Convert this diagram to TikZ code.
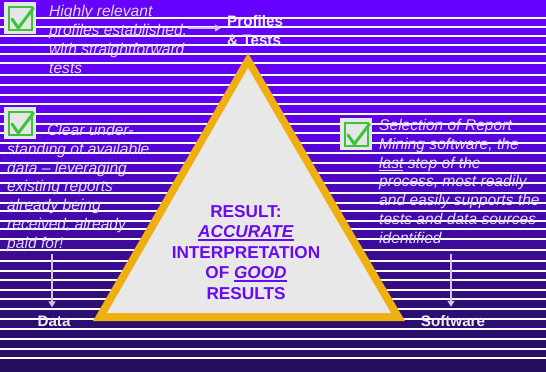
\documentclass[tikz,border=0pt]{standalone}
\usepackage{fontspec}
\setmainfont{Liberation Sans}
\usetikzlibrary{arrows.meta}
\definecolor{bgtop}{RGB}{102,0,255}
\definecolor{bgmidA}{RGB}{96,0,238}
\definecolor{bgmidB}{RGB}{72,8,180}
\definecolor{bgmidC}{RGB}{48,14,120}
\definecolor{bgbot}{RGB}{35,15,90}
\definecolor{orng}{RGB}{239,176,15}
\definecolor{trigray}{RGB}{232,232,232}
\definecolor{ctext}{RGB}{105,10,245}
\definecolor{itext}{RGB}{226,218,245}
\definecolor{lbltext}{RGB}{238,236,245}
\definecolor{arrcol}{RGB}{205,198,230}
\definecolor{chkgreen}{RGB}{60,195,60}
\definecolor{chkbg}{RGB}{230,230,230}
\newcommand\myThickUl[1]{\setbox0\hbox{#1}\rlap{\raisebox{-3.2pt}{\rule{\wd0}{1.8pt}}}\box0}
\pgfdeclareverticalshading{bgshade}{100bp}{color(0bp)=(bgbot); color(25bp)=(bgbot); color(34.7bp)=(bgmidC); color(48.1bp)=(bgmidB); color(60.2bp)=(bgmidA); color(75bp)=(bgtop); color(100bp)=(bgtop)}
\tikzset{
  bgline/.style={draw=white, line width=1.1pt},
  bodytext/.style={text=itext, font=\fontsize{15.6}{18.7}\selectfont\itshape, align=left, inner sep=0pt, anchor=base west},
  lbl/.style={text=lbltext, font=\fontsize{15.2}{19}\selectfont\bfseries, align=left, inner sep=0pt},
  centertext/.style={text=ctext, font=\fontsize{17.2}{20.5}\selectfont\bfseries, align=center, inner sep=0pt, anchor=base},
  arr/.style={draw=arrcol, line width=1.4pt, -{Triangle[width=7pt,length=6pt]}},
  chkbox/.pic={
    \fill[chkbg] (0,0) rectangle (32,32);
    \draw[chkgreen, line width=1.5pt, fill=chkbg] (5,5) rectangle (28,28);
    \draw[chkgreen, line width=3pt, line join=round, line cap=round] (8,17) -- (14.3,26) -- (29.3,6.3);
  }
}
\begin{document}
\begin{tikzpicture}[x=1pt, y=-1pt]
\useasboundingbox (0,0) rectangle (546,372);
\shade[shading=bgshade] (0,0) rectangle (546,372);
\foreach \yy in {18,27,36,45,54,63,75,85,95,104,114,124,133,143,153,163,173,183,193,203,211,221,229,239,250,261,271,280,290,299,309,319,329,339,349,358}
  \draw[bgline] (0,\yy) -- (546,\yy);
% triangle
\fill[orng] (248,53) -- (93,321) -- (405,321) -- cycle;
\fill[trigray] (248,68) -- (107,313) -- (391,313) -- cycle;
% checkboxes
\pic at (4,2) {chkbox};
\pic at (4,107) {chkbox};
\pic at (340,118) {chkbox};
% texts (anchored at the baseline of the last line)
\node[bodytext, font=\fontsize{15.6}{19}\selectfont\itshape] (t1) at (49,73) {Highly relevant\\profiles established,\\with straightforward\\tests};
\node[bodytext] (t2) at (7,248) {\hspace*{40pt}Clear under-\\standing of available\\data -- leveraging\\existing reports\\already being\\received, already\\paid for!};
\node[bodytext] (t3) at (379,243) {Selection of Report\\Mining software, the\\\underline{last} step of the\\process, most readily\\and easily supports the\\tests and data sources\\identified};
\node[lbl, anchor=base west] (prof) at (227,45) {Profiles\\\& Tests};
\node[lbl, anchor=base] (data) at (54,326) {Data};
\node[lbl, anchor=base] (soft) at (453,326) {Software};
\node[centertext] (res) at (246,299) {RESULT:\\\myThickUl{\textit{ACCURATE}}\\INTERPRETATION\\OF \myThickUl{\textit{GOOD}}\\RESULTS};
% arrows
\coordinate (a1) at (188,28);
\coordinate (d1) at (52,254);
\coordinate (s1) at (451,254);
\draw[arr, shorten >=6pt] (a1) -- (a1 -| prof.west);
\draw[arr, shorten >=8pt] (d1) -- (d1 |- data.north);
\draw[arr, shorten >=8pt] (s1) -- (s1 |- soft.north);
\end{tikzpicture}
\end{document}
